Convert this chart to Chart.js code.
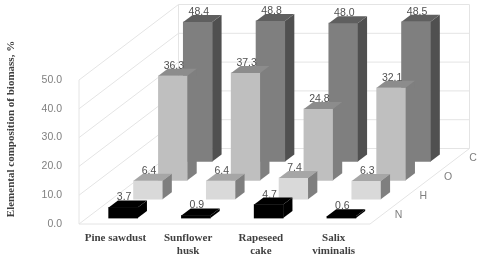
<!DOCTYPE html>
<html>
<head>
<meta charset="utf-8">
<title>Elemental composition of biomass</title>
<script src="https://cdn.jsdelivr.net/npm/chart.js@4"></script>
<style>
    html, body { margin: 0; padding: 0; background: #fff; }
    /* the reference is a soft, upscaled picture */
    canvas { display: block; filter: blur(0.4px); }
</style>
</head>
<body>
<canvas id="biomassChart" width="480" height="257"></canvas>
<script>
// ---------------- Data ----------------
const categories = ["Pine sawdust", ["Sunflower", "husk"], ["Rapeseed", "cake"], ["Salix", "viminalis"]];
const depthLabels = ["N", "H", "O", "C"];
const nValues = [3.7, 0.9, 4.7, 0.6];
const hValues = [6.4, 6.4, 7.4, 6.3];
const oValues = [36.3, 37.3, 24.8, 32.1];
const cValues = [48.4, 48.8, 48.0, 48.5];
const axisTitle = "Elemental composition of biomass, %";

// ---------------- Fake 3D look ----------------
const wallX = 99.5, wallY = 75.5;      // floor depth, front edge to back wall
const barDepthX = 9.3, barDepthY = 7;  // depth of one bar
const gridColor = "#e4e4e4";
const faces = [
    { side: "#000000", top: "#000000" },
    { side: "#7f7f7f", top: "#a6a6a6" },
    { side: "#7f7f7f", top: "#8c8c8c" },
    { side: "#505050", top: "#5f5f5f" }
];

function slotOffset(i) {
    const step = (i + 0.5) / depthLabels.length;
    return { x: step * wallX - barDepthX / 2, y: -step * wallY + barDepthY / 2 };
}

const fake3d = {
    id: "fake3d",
    beforeDatasetsDraw(chart) {
        const { ctx, chartArea: a, scales: { y } } = chart;
        ctx.save();
        ctx.strokeStyle = gridColor;
        ctx.lineWidth = 1;
        ctx.beginPath();
        y.ticks.forEach(t => {
            const py = y.getPixelForValue(t.value);
            ctx.moveTo(a.left, py);
            ctx.lineTo(a.left + wallX, py - wallY);
            ctx.lineTo(a.right + wallX, py - wallY);
        });
        ctx.moveTo(a.left, a.top);
        ctx.lineTo(a.left, a.bottom);
        ctx.lineTo(a.right, a.bottom);
        ctx.lineTo(a.right + wallX, a.bottom - wallY);
        ctx.lineTo(a.right + wallX, a.top - wallY);
        ctx.moveTo(a.left + wallX, a.top - wallY);
        ctx.lineTo(a.left + wallX, a.bottom - wallY);
        ctx.stroke();

        ctx.fillStyle = "#7f7f7f";
        ctx.font = "10.5px 'Liberation Sans'";
        ctx.textAlign = "center";
        ctx.textBaseline = "middle";
        depthLabels.forEach((label, i) => {
            const step = (i + 0.5) / depthLabels.length;
            ctx.fillText(label, a.right + step * wallX + 16, a.bottom - step * wallY + 0.5);
        });
        ctx.restore();
    },
    beforeDatasetDraw(chart, args) {
        const off = slotOffset(args.index);
        chart.ctx.save();
        chart.ctx.translate(off.x, off.y);
    },
    afterDatasetDraw(chart, args) {
        const ctx = chart.ctx;
        const face = faces[args.index];
        args.meta.data.forEach((bar, j) => {
            const left = bar.x - bar.width / 2, right = bar.x + bar.width / 2;
            ctx.fillStyle = face.side;
            ctx.beginPath();
            ctx.moveTo(right, bar.y);
            ctx.lineTo(right + barDepthX, bar.y - barDepthY);
            ctx.lineTo(right + barDepthX, bar.base - barDepthY);
            ctx.lineTo(right, bar.base);
            ctx.fill();
            ctx.fillStyle = face.top;
            ctx.beginPath();
            ctx.moveTo(left, bar.y);
            ctx.lineTo(left + barDepthX, bar.y - barDepthY);
            ctx.lineTo(right + barDepthX, bar.y - barDepthY);
            ctx.lineTo(right, bar.y);
            ctx.fill();
            ctx.fillStyle = "#505050";
            ctx.font = "10.5px 'Liberation Sans'";
            ctx.textAlign = "center";
            ctx.textBaseline = "alphabetic";
            ctx.fillText(chart.data.datasets[args.index].data[j].toFixed(1), bar.x + 1, bar.y - barDepthY);
        });
        ctx.restore();
    },
    afterDraw(chart) {
        const ctx = chart.ctx;
        ctx.save();
        ctx.translate(11, 129);
        ctx.rotate(-Math.PI / 2);
        ctx.fillStyle = "#404040";
        ctx.font = "bold 11px 'Liberation Serif'";
        ctx.textAlign = "center";
        ctx.textBaseline = "middle";
        ctx.fillText(axisTitle, 0, 0);
        ctx.restore();
    }
};

// ---------------- Chart ----------------
new Chart(document.getElementById("biomassChart"), {
    type: "bar",
    data: {
        labels: categories,
        datasets: [
            { label: "N", data: nValues, backgroundColor: "#000000" },
            { label: "H", data: hValues, backgroundColor: "#d9d9d9" },
            { label: "O", data: oValues, backgroundColor: "#bfbfbf" },
            { label: "C", data: cValues, backgroundColor: "#7f7f7f" }
        ]
    },
    options: {
        responsive: false,
        animation: false,
        clip: false,
        layout: { padding: { top: 80, right: 110 } },
        datasets: { bar: { grouped: false, barThickness: 29 } },
        plugins: { legend: { display: false }, tooltip: { enabled: false } },
        scales: {
            x: {
                grid: { display: false },
                border: { display: false },
                afterFit(scale) { scale.height = 33; },
                ticks: {
                    padding: 0,
                    maxRotation: 0,
                    color: "#404040",
                    font: { family: "'Liberation Serif'", size: 11, weight: "bold", lineHeight: 1.15 }
                }
            },
            y: {
                min: 0,
                max: 50,
                grid: { display: false },
                border: { display: false },
                afterFit(scale) { scale.width = 79; },
                ticks: {
                    stepSize: 10,
                    padding: 9,
                    color: "#7f7f7f",
                    font: { family: "'Liberation Sans'", size: 10.5 },
                    callback: value => value.toFixed(1)
                }
            }
        }
    },
    plugins: [fake3d]
});
</script>
</body>
</html>
